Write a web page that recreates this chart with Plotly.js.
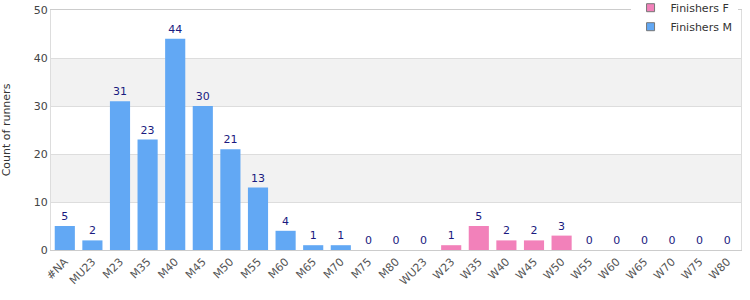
<!DOCTYPE html>
<html><head><meta charset="utf-8">
<script src="https://cdn.plot.ly/plotly-3.0.1.min.js"></script>
<style>html,body{margin:0;padding:0;background:#fff}#chart{width:750px;height:300px}</style>
</head><body><div id="chart"></div>
<script>
const categories = ["#NA","MU23","M23","M35","M40","M45","M50","M55","M60","M65","M70","M75","M80","WU23","W23","W35","W40","W45","W50","W55","W60","W65","W70","W75","W80"];
const finishersM = [5,2,31,23,44,30,21,13,4,1,1,0,0,null,null,null,null,null,null,null,null,null,null,null,null];
const finishersF = [null,null,null,null,null,null,null,null,null,null,null,null,null,0,1,5,2,2,3,0,0,0,0,0,0];
const colorM = "#62a8f4";
const colorF = "#f281ba";

function barTrace(name, vals, color){
  return {type:"bar", name:name, x:categories, y:vals, marker:{color:color},
    text: vals.map(v => v===null ? "" : String(v)), textposition:"outside",
    textfont:{family:"DejaVu Sans, sans-serif", size:11, color:"#1a1a80"},
    cliponaxis:false, showlegend:false, hoverinfo:"x+y"};
}
function legendTrace(name, color){
  return {type:"scatter", mode:"markers", name:name, x:[null], y:[null],
    marker:{symbol:"square", size:8, color:color, line:{color:"#777", width:1}}, showlegend:true};
}
const data = [
  barTrace("Finishers M", finishersM, colorM),
  barTrace("Finishers F", finishersF, colorF),
  legendTrace("Finishers F", colorF),
  legendTrace("Finishers M", colorM)
];
const layout = {
  width:750, height:300,
  margin:{l:51, r:9, t:10, b:50, autoexpand:false},
  paper_bgcolor:"#fff", plot_bgcolor:"#fff",
  barmode:"overlay", bargap:0.27,
  font:{family:"DejaVu Sans, sans-serif", size:11, color:"#444"},
  xaxis:{type:"category", tickangle:-45, tickfont:{size:11, color:"#555"},
    showline:true, linecolor:"#ccc", mirror:true, ticks:"", showgrid:false, fixedrange:true, automargin:false},
  yaxis:{range:[0,50], dtick:10, tickfont:{size:11, color:"#444"},
    title:{text:"Count of runners", font:{size:11, color:"#333"}, standoff:20},
    showline:true, linecolor:"#ddd", mirror:true, gridcolor:"#ddd", zeroline:false, ticks:"", fixedrange:true, automargin:false},
  shapes:[
    {type:"rect", xref:"paper", yref:"y", x0:0, x1:1, y0:10, y1:20, fillcolor:"#f2f2f2", line:{width:0}, layer:"below"},
    {type:"rect", xref:"paper", yref:"y", x0:0, x1:1, y0:30, y1:40, fillcolor:"#f2f2f2", line:{width:0}, layer:"below"}
  ],
  legend:{x:0.995, y:1.07, xanchor:"right", yanchor:"top", bgcolor:"#fff",
    font:{size:11, color:"#333"}, tracegroupgap:0, itemwidth:30},
  showlegend:true
};
Plotly.newPlot("chart", data, layout, {displayModeBar:false, staticPlot:true});
</script></body></html>
